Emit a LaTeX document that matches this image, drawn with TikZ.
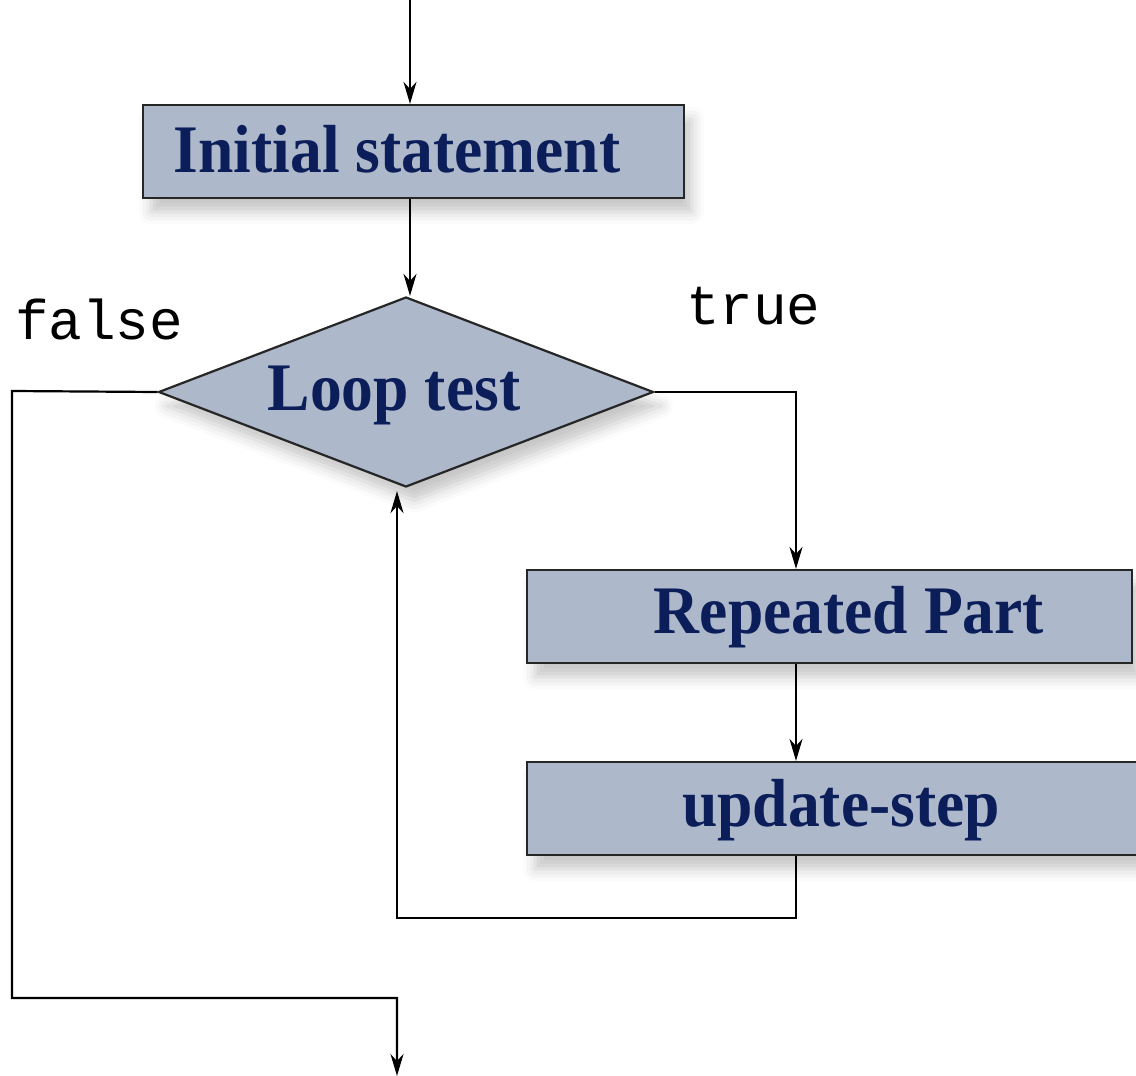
\documentclass[tikz,border=0pt]{standalone}
\usepackage{fontspec}
\setmainfont{Liberation Serif}
\newfontfamily\lblfont{Liberation Serif}[FakeStretch=0.935]
\newfontfamily\monofont{Liberation Mono}
\usetikzlibrary{shapes.geometric,arrows.meta,shadows.blur}
\definecolor{boxfill}{RGB}{173,184,202}
\definecolor{navy}{RGB}{12,30,90}
\begin{document}
\begin{tikzpicture}[x=1pt,y=-1pt,
  line width=2.2pt,
  arr/.style={-{Stealth[length=22pt,width=13pt,inset=7pt]}},
  shad/.style={blur shadow={shadow xshift=8pt,shadow yshift=-14pt,shadow blur radius=12pt,shadow opacity=22}},
  stepbox/.style={draw=black!85,fill=boxfill,line width=2.2pt,rectangle,inner sep=0pt,minimum height=93pt,shad},
  decbox/.style={draw=black!85,fill=boxfill,line width=2.2pt,diamond,inner sep=0pt,minimum width=495pt,minimum height=190pt,shad},
  lbl/.style={text=navy,font=\lblfont\bfseries\fontsize{68}{68}\selectfont,inner sep=0pt,anchor=base},
  mono/.style={font=\monofont\fontsize{56}{56}\selectfont,inner sep=0pt,anchor=base west}]
\useasboundingbox (0,0) rectangle (1136,1076);
\coordinate (top) at (410,0);
\coordinate (cx) at (796,0);
\coordinate (lx) at (397,0);
\coordinate (out) at (397,1076);
\node[stepbox,minimum width=541pt] (init) at (413.5,151.5) {};
\node[lbl] (initt) at (397,172) {Initial statement};
\node[decbox] (dia) at (406,392) {};
\node[lbl] (diat) at (394,410) {Loop test};
\node[stepbox,minimum width=605pt] (rep) at (829.5,616.5) {};
\node[lbl] (rept) at (849,633) {Repeated Part};
\node[stepbox,minimum width=615pt] (upd) at (834.5,808.5) {};
\node[lbl] (updt) at (841,826) {update-step};
\node[mono] (fl) at (14,339) {false};
\node[mono] (tr) at (685,324) {true};
\draw[arr] (top) -- (top |- init.north);
\draw[arr] (init.south -| top) -- (dia.north -| top);
\draw[arr] (dia.west) -- (12,391) -- (12,998) -- (397,998) -- (out);
\draw[arr] (dia.east) -| (rep.north -| cx);
\draw[arr] (rep.south -| cx) -- (upd.north -| cx);
\draw[arr] (upd.south -| cx) -- (796,918) -| ([yshift=-3pt]dia.south -| lx);
\end{tikzpicture}
\end{document}
